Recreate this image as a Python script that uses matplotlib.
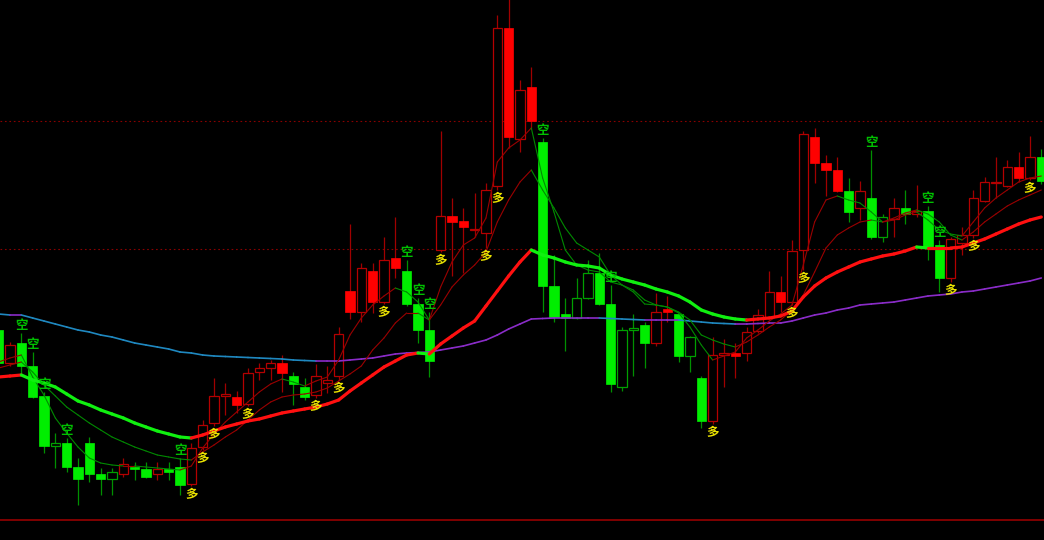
import numpy as np
import matplotlib
matplotlib.use("Agg")
import matplotlib.pyplot as plt
from matplotlib.patches import Rectangle
from matplotlib.collections import LineCollection

# daily bars (open, high, low, close)
opens = [21.0, 17.7, 19.7, 17.4, 14.4, 9.4, 9.7, 7.3, 9.7, 6.6,
         6.1, 6.6, 7.3, 7.1, 6.6, 7.1, 7.3, 5.6, 9.3, 11.7,
         14.4, 14.3, 13.6, 16.8, 17.2, 17.7, 16.4, 15.3, 14.5, 15.7,
         16.4, 24.9, 22.8, 26.9, 23.8, 28.2, 26.9, 23.6, 21.0, 29.0,
         32.4, 31.9, 31.0, 30.7, 35.4, 51.2, 40.1, 45.3, 39.8, 25.4,
         22.6, 22.2, 24.2, 26.7, 23.6, 15.3, 21.0, 21.5, 19.7, 23.1,
         22.6, 18.4, 16.2, 11.9, 18.5, 18.7, 18.7, 20.9, 22.3, 24.8,
         23.8, 29.0, 40.3, 37.7, 37.0, 34.9, 33.2, 34.2, 30.3, 32.1,
         33.2, 32.6, 32.9, 29.5, 26.2, 29.7, 30.5, 33.9, 35.7, 35.4,
         37.3, 36.2, 38.3]
highs = [21.5, 19.8, 20.7, 18.8, 14.8, 10.7, 10.2, 8.2, 10.3, 7.2,
         7.2, 8.2, 7.8, 7.8, 7.8, 7.8, 8.2, 9.7, 12.0, 16.2,
         15.7, 14.9, 17.2, 17.7, 18.0, 18.5, 16.8, 16.2, 17.6, 17.4,
         21.3, 31.6, 27.7, 27.7, 30.3, 32.3, 28.0, 24.2, 22.8, 40.9,
         34.2, 33.2, 34.7, 35.7, 52.5, 54.5, 46.0, 47.3, 40.2, 28.5,
         24.2, 26.2, 28.0, 28.7, 25.5, 21.3, 22.6, 21.8, 24.7, 24.4,
         22.7, 20.4, 16.4, 20.3, 20.1, 19.7, 21.3, 23.1, 26.9, 26.4,
         30.0, 40.9, 41.2, 38.5, 38.3, 36.2, 35.9, 39.0, 32.6, 34.2,
         35.0, 35.5, 33.4, 30.0, 30.3, 31.3, 35.0, 36.3, 38.3, 38.0,
         38.8, 40.4, 39.1]
lows = [17.2, 17.4, 16.5, 14.2, 8.7, 7.2, 6.8, 3.5, 5.8, 4.5,
        4.5, 6.3, 6.0, 6.2, 6.0, 6.0, 4.5, 5.4, 9.0, 11.4,
        12.5, 12.7, 13.4, 16.0, 16.0, 14.8, 13.5, 14.0, 14.2, 14.7,
        16.0, 22.1, 21.8, 22.7, 23.6, 26.2, 23.4, 19.7, 16.3, 28.8,
        26.4, 26.7, 30.3, 29.2, 35.0, 39.2, 38.8, 41.2, 22.8, 21.8,
        18.9, 22.1, 24.1, 23.5, 14.8, 14.9, 16.4, 17.2, 19.4, 21.8,
        17.8, 16.8, 11.2, 11.6, 15.3, 16.2, 17.9, 20.7, 22.2, 22.8,
        23.5, 27.0, 35.7, 34.4, 34.8, 31.8, 32.0, 30.1, 29.8, 30.3,
        31.6, 32.3, 28.0, 24.8, 25.8, 28.5, 30.2, 33.8, 34.2, 35.3,
        35.8, 36.0, 35.6]
closes = [17.7, 19.5, 17.4, 14.3, 9.4, 9.7, 7.3, 6.1, 6.6, 6.1,
          6.8, 7.6, 7.1, 6.3, 7.1, 6.8, 5.5, 9.2, 11.5, 14.4,
          14.6, 13.5, 16.7, 17.2, 17.7, 16.7, 15.6, 14.3, 16.4, 16.0,
          20.6, 22.8, 27.2, 23.8, 28.0, 27.2, 23.6, 21.0, 17.9, 32.4,
          31.8, 31.3, 31.1, 35.0, 51.2, 40.3, 45.0, 41.9, 25.4, 22.3,
          22.2, 24.2, 26.7, 23.6, 15.6, 21.0, 21.2, 19.7, 22.8, 22.8,
          18.4, 20.3, 11.9, 18.5, 18.7, 18.4, 20.8, 22.5, 24.8, 23.8,
          28.9, 40.6, 37.7, 37.0, 34.9, 32.8, 34.9, 30.3, 32.3, 33.2,
          32.6, 32.9, 29.3, 26.2, 30.1, 30.5, 34.2, 35.8, 35.8, 37.3,
          36.2, 38.3, 35.9]
# bar colour state per bar: r = red, g = green
bar_state = list("grgggggggg" "grggrggrrr" "rrrrrrggrr" "rrrrrrgggr"
                 "rrrrrrrrgg" "ggggggggrr" "gggrrrrrrr" "rrrrrgrggr"
                 "grggrrrrrr" "rrg")

# moving averages
ma_fast = [17.8, 18.2, 18.5, 16.3, 14.5, 12.2, 10.7, 9.3, 8.2, 7.7,
           7.5, 7.4, 7.4, 7.3, 7.2, 7.1, 7.0, 7.4, 9.2, 10.6,
           11.8, 12.8, 13.8, 14.8, 15.6, 16.1, 15.8, 15.4, 15.9, 16.3,
           18.0, 20.5, 22.2, 23.5, 24.4, 25.2, 24.8, 23.8, 22.0, 25.3,
           27.8, 29.5, 30.2, 32.2, 37.8, 39.2, 40.0, 41.2, 36.2, 32.8,
           29.0, 27.5, 27.0, 26.8, 25.8, 25.5, 24.8, 23.6, 23.5, 23.3,
           22.7, 21.3, 19.5, 18.0, 18.4, 18.8, 20.2, 21.0, 21.9, 22.6,
           23.5, 27.5, 31.8, 34.0, 34.4, 34.0, 33.7, 32.8, 31.8, 32.0,
           32.5, 32.8, 32.0, 31.0, 30.6, 30.4, 31.8, 33.2, 34.2, 35.0,
           35.8, 36.2, 36.4]
ma_slow = [17.2, 17.5, 17.8, 16.8, 15.5, 14.4, 13.3, 12.5, 11.7, 11.0,
           10.3, 9.8, 9.3, 8.9, 8.5, 8.3, 8.1, 8.0, 8.8, 9.5,
           10.3, 11.0, 12.0, 13.0, 13.8, 14.3, 14.5, 14.6, 14.8, 15.2,
           15.9, 16.6, 17.4, 19.0, 20.2, 21.7, 22.7, 22.7, 22.0, 23.5,
           25.3, 26.5, 27.5, 28.8, 31.8, 34.0, 35.8, 37.0, 35.0, 33.2,
           31.2, 29.7, 29.0, 28.3, 26.5, 25.5, 25.0, 24.0, 23.5, 23.3,
           22.8, 22.0, 20.5, 20.0, 19.6, 19.3, 19.8, 20.5, 21.3, 22.0,
           23.0, 24.5, 26.8, 29.2, 30.5, 31.2, 31.8, 32.0, 31.8, 32.2,
           32.7, 33.0, 32.6, 31.8, 30.5, 30.0, 30.8, 31.8, 32.6, 33.4,
           34.0, 34.5, 35.0]
ma_mid = [16.3, 16.4, 16.5, 16.0, 15.7, 15.3, 14.6, 13.9, 13.5, 13.0,
          12.6, 12.2, 11.7, 11.3, 10.9, 10.6, 10.3, 10.2, 10.5, 10.9,
          11.3, 11.6, 11.9, 12.1, 12.4, 12.7, 12.9, 13.1, 13.3, 13.6,
          14.0, 14.9, 15.7, 16.5, 17.3, 17.9, 18.5, 18.7, 18.6, 19.6,
          20.4, 21.2, 21.9, 23.4, 24.9, 26.4, 27.8, 29.0, 28.5, 28.2,
          27.8, 27.5, 27.4, 27.2, 26.5, 26.1, 25.8, 25.5, 25.1, 24.8,
          24.4, 23.8, 23.0, 22.6, 22.3, 22.1, 22.0, 22.1, 22.2, 22.4,
          22.9, 24.3, 25.4, 26.2, 26.8, 27.3, 27.8, 28.1, 28.4, 28.6,
          28.9, 29.3, 29.2, 29.2, 29.2, 29.3, 29.7, 30.1, 30.6, 31.1,
          31.6, 32.0, 32.3]
ma_long = [22.6, 22.5, 22.5, 22.2, 21.9, 21.6, 21.3, 21.0, 20.8, 20.5,
           20.3, 20.0, 19.7, 19.5, 19.3, 19.1, 18.8, 18.7, 18.5, 18.4,
           18.35, 18.3, 18.25, 18.2, 18.15, 18.1, 18.0, 17.95, 17.9, 17.9,
           17.9, 18.0, 18.1, 18.2, 18.4, 18.6, 18.7, 18.75, 18.8, 19.0,
           19.2, 19.4, 19.7, 20.0, 20.5, 21.1, 21.6, 22.1, 22.15, 22.2,
           22.2, 22.2, 22.2, 22.2, 22.15, 22.1, 22.05, 22.0, 22.0, 22.0,
           22.0, 21.9, 21.8, 21.7, 21.65, 21.6, 21.6, 21.65, 21.7, 21.7,
           21.9, 22.2, 22.5, 22.7, 23.0, 23.2, 23.5, 23.6, 23.7, 23.8,
           24.0, 24.2, 24.4, 24.5, 24.6, 24.8, 24.9, 25.1, 25.3, 25.5,
           25.7, 25.9, 26.2]

# signal bars
buy_idx = [17, 18, 19, 22, 28, 30, 34, 39, 43, 44, 63, 70, 71, 84, 86, 91]
sell_idx = [0, 2, 3, 4, 6, 16, 36, 37, 38, 48, 54, 77, 82, 83]

grid_levels = [29.1, 41.9]
pane_bottom = 2.0

CJK = ['Noto Sans CJK SC', 'DejaVu Sans']


def slope_line(ax, vals, up_col, down_col, lw, z):
    x = np.arange(len(vals))
    segs = [[(x[k], vals[k]), (x[k + 1], vals[k + 1])] for k in range(len(vals) - 1)]
    cols = [up_col if vals[k + 1] >= vals[k] else down_col for k in range(len(vals) - 1)]
    ax.add_collection(LineCollection(segs, colors=cols, linewidths=lw,
                                     capstyle='round', zorder=z))


fig = plt.figure(figsize=(10.44, 5.40), dpi=100, facecolor='black')
ax = fig.add_axes([0, 0, 1, 1])
ax.set_facecolor('black')
ax.set_xlim(0.1176, 92.24)
ax.set_ylim(0, 54)
ax.axis('off')

for lvl in grid_levels:
    ax.axhline(lvl, color='#8a0000', lw=0.8, ls=(0, (1.5, 2.5)), zorder=1)
ax.axhline(pane_bottom, color='#8a0000', lw=1.3, zorder=1)

w = 0.82
for i in range(len(opens)):
    o, h, l, c = opens[i], highs[i], lows[i], closes[i]
    red = bar_state[i] == 'r'
    bright = '#ff0000' if red else '#00ee00'
    dark = '#b40000' if red else '#00a000'
    wick = '#a00000' if red else '#009000'
    if c >= o:
        top, bot = c, o
        if top - bot < 0.15:
            top = bot + 0.15
        ax.vlines(i, top, h, color=wick, lw=0.9, zorder=2)
        ax.vlines(i, l, bot, color=wick, lw=0.9, zorder=2)
        ax.add_patch(Rectangle((i - w / 2, bot), w, top - bot, facecolor='black',
                               edgecolor=dark, lw=0.9, zorder=3))
    else:
        ax.vlines(i, l, h, color=wick, lw=0.9, zorder=2)
        hgt = max(o - c, 0.15)
        ax.add_patch(Rectangle((i - w / 2, c), w, hgt, facecolor=bright,
                               edgecolor=bright, lw=0.5, zorder=3))

slope_line(ax, ma_long, '#8a2cc8', '#1f88c0', 1.2, 4)
slope_line(ax, ma_slow, '#9a0000', '#008a00', 0.8, 5)
slope_line(ax, ma_fast, '#9a0000', '#008a00', 0.8, 5)
slope_line(ax, ma_mid, '#ff1010', '#10f010', 2.3, 6)

for i in buy_idx:
    ax.annotate('多', (i, lows[i]), xytext=(0, -6.5), textcoords='offset points',
                ha='center', va='center', color='#e8e000', fontsize=9,
                fontweight='bold', family=CJK, zorder=8)
for i in sell_idx:
    ax.annotate('空', (i, highs[i]), xytext=(0, 5.5), textcoords='offset points',
                ha='center', va='center', color='#00c000', fontsize=9,
                fontweight='bold', family=CJK, zorder=8)

fig.savefig('out.png', dpi=100, facecolor='black')
